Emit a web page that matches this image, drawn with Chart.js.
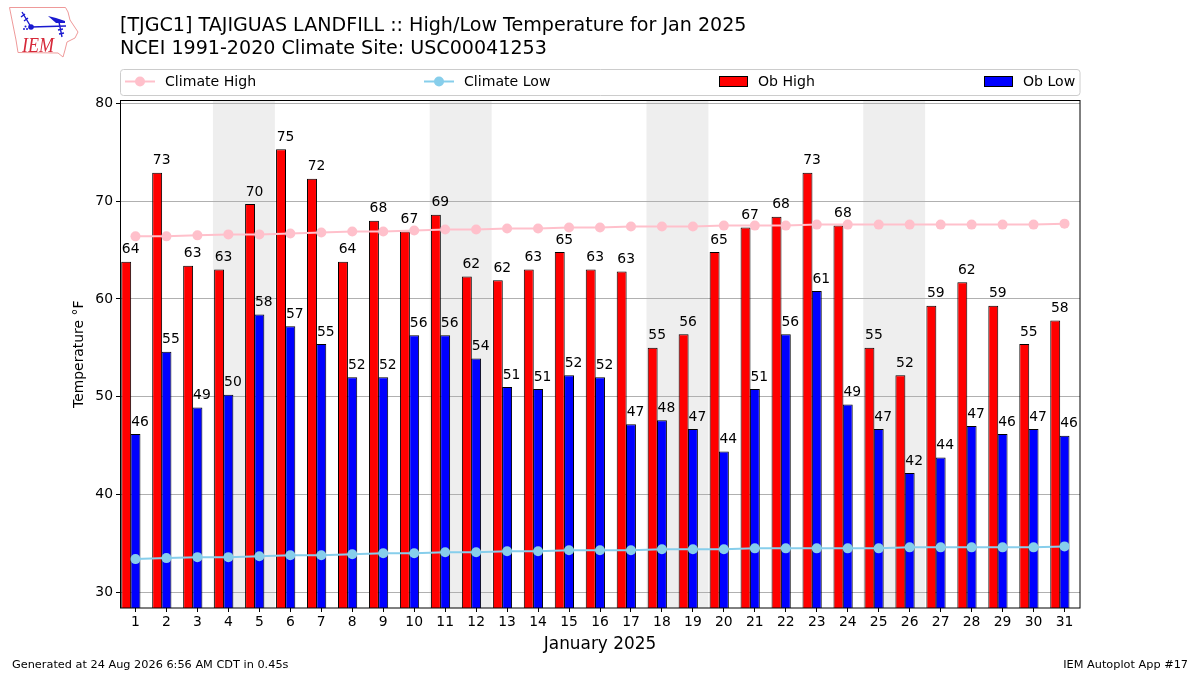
<!DOCTYPE html>
<html>
<head>
<meta charset="utf-8">
<title>TJGC1 High/Low Temperature</title>
<script src="https://cdn.jsdelivr.net/npm/chart.js@4"></script>
<style>
    html, body { margin: 0; padding: 0; background: #fff; }
    #wrap { position: relative; width: 1200px; height: 675px; overflow: hidden; }
    #logo { position: absolute; left: 8px; top: 6px; }
</style>
</head>
<body>
<div id="wrap">
    <canvas id="tempChart" width="1200" height="675"></canvas>
    <svg id="logo" width="74" height="54" viewBox="8 6 74 54">
        <path d="M9.5 7.5 L65.5 7.5 L68 12 L70 20 L78 32 L75 38 L67 42 L65 50 L63 57 L58 53 L18 52.5 L16 40 L12 20 Z" fill="#fff" stroke="#ee9999" stroke-width="1"/>
        <g stroke="#1a1ad0" stroke-width="1.4" fill="none">
            <path d="M31 27 L66 26 M59 22 L62 37 M58 30 L63 29 M59 34 L64 33 M22 12 L31 27 M21 17 L25 14 M24 21 L28 18"/>
        </g>
        <path d="M48 16 L56 18 L65 21 L65 23 L56 23 Z" fill="#1a1ad0"/>
        <circle cx="31" cy="27" r="2.8" fill="#1a1ad0"/>
        <circle cx="24" cy="29" r="1" fill="#1a1ad0"/>
        <circle cx="27" cy="29" r="1" fill="#1a1ad0"/>
        <circle cx="25.5" cy="26.5" r="1" fill="#1a1ad0"/>
        <text x="22" y="52" font-family="Liberation Serif" font-style="italic" font-size="21" textLength="32" lengthAdjust="spacingAndGlyphs" fill="#d62839">IEM</text>
    </svg>
</div>
<script>
const days = ["1","2","3","4","5","6","7","8","9","10","11","12","13","14","15","16","17","18","19","20","21","22","23","24","25","26","27","28","29","30","31"];
const obHigh = [63.8,72.9,63.4,63.0,69.7,75.3,72.3,63.8,68.0,66.9,68.6,62.3,61.9,63.0,64.8,63.0,62.8,55.0,56.4,64.8,67.3,68.4,72.9,67.5,55.0,52.2,59.3,61.7,59.3,55.4,57.8];
const obLow = [46.2,54.6,48.9,50.2,58.4,57.2,55.4,52.0,52.0,56.3,56.3,53.9,51.0,50.8,52.2,52.0,47.2,47.6,46.7,44.4,50.8,56.4,60.8,49.2,46.7,42.2,43.8,47.0,46.2,46.7,46.0];
const climateHigh = [66.4,66.4,66.5,66.6,66.6,66.7,66.8,66.9,66.9,67.0,67.1,67.1,67.2,67.2,67.3,67.3,67.4,67.4,67.4,67.5,67.5,67.5,67.6,67.6,67.6,67.6,67.6,67.6,67.6,67.6,67.7];
const climateLow = [33.4,33.5,33.6,33.6,33.7,33.8,33.8,33.9,34.0,34.0,34.1,34.1,34.2,34.2,34.3,34.3,34.3,34.4,34.4,34.4,34.5,34.5,34.5,34.5,34.5,34.6,34.6,34.6,34.6,34.6,34.7];
const weekends = [[4,5],[11,12],[18,19],[25,26]];
const yTicks = [30,40,50,60,70,80];

const FONT = '"DejaVu Sans"';

// grey bands behind the weekends
const weekendBands = {
    id: "weekendBands",
    beforeDraw(chart) {
        const { ctx, chartArea, scales } = chart;
        const half = (scales.x.getPixelForValue(1) - scales.x.getPixelForValue(0)) / 2;
        ctx.save();
        ctx.fillStyle = "#eeeeee";
        weekends.forEach(([a, b]) => {
            const x0 = scales.x.getPixelForValue(a - 1) - half;
            const x1 = scales.x.getPixelForValue(b - 1) + half;
            ctx.fillRect(x0, chartArea.top, x1 - x0, chartArea.bottom - chartArea.top);
        });
        ctx.restore();
    },
};

// rounded values above the bars, black frame, footer text
const barLabels = {
    id: "barLabels",
    afterDraw(chart) {
        const { ctx, chartArea } = chart;
        ctx.save();
        ctx.fillStyle = "#000";
        ctx.font = "13.9px " + FONT;
        ctx.textAlign = "center";
        ctx.textBaseline = "middle";
        [2, 3].forEach((i) => {
            const meta = chart.getDatasetMeta(i);
            chart.data.datasets[i].data.forEach((v, j) => {
                const bar = meta.data[j];
                ctx.fillText(String(Math.round(v)), bar.x + 4.5, bar.y - 12);
            });
        });
        ctx.strokeStyle = "#000";
        ctx.lineWidth = 1;
        ctx.strokeRect(120.5, chartArea.top, 959.5, chartArea.bottom - chartArea.top);

        ctx.font = "11.3px " + FONT;
        ctx.textAlign = "left";
        ctx.fillText("Generated at 24 Aug 2026 6:56 AM CDT in 0.45s", 12, 665);
        ctx.textAlign = "right";
        ctx.fillText("IEM Autoplot App #17", 1188, 665);
        ctx.restore();
    },
};

// legend stretched over the plot width, like matplotlib mode="expand"
const wideLegend = {
    id: "wideLegend",
    afterDraw(chart) {
        const { ctx } = chart;
        const slots = [[0, 125], [1, 424], [2, 719], [3, 984]];
        ctx.save();
        ctx.beginPath();
        ctx.roundRect(120.5, 69.5, 959.5, 26, 3);
        ctx.fillStyle = "#fff";
        ctx.fill();
        ctx.strokeStyle = "#cccccc";
        ctx.lineWidth = 1;
        ctx.stroke();
        const y = 81.5;
        slots.forEach(([i, x]) => {
            const ds = chart.data.datasets[i];
            if (ds.type === "line") {
                ctx.strokeStyle = ds.borderColor;
                ctx.lineWidth = 2;
                ctx.beginPath();
                ctx.moveTo(x, y);
                ctx.lineTo(x + 30, y);
                ctx.stroke();
                ctx.fillStyle = ds.borderColor;
                ctx.beginPath();
                ctx.arc(x + 15, y, 5, 0, Math.PI * 2);
                ctx.fill();
            } else {
                ctx.fillStyle = ds.backgroundColor;
                ctx.strokeStyle = "#000";
                ctx.lineWidth = 1;
                ctx.fillRect(x + 0.5, y - 5, 28, 10);
                ctx.strokeRect(x + 0.5, y - 5, 28, 10);
            }
            ctx.fillStyle = "#000";
            ctx.font = "14.1px " + FONT;
            ctx.textAlign = "left";
            ctx.textBaseline = "middle";
            ctx.fillText(ds.label, x + (ds.type === "line" ? 40 : 39), y + 1);
        });
        ctx.restore();
    },
};

const tempCtx = document.getElementById("tempChart").getContext("2d");
const tempChart = new Chart(tempCtx, {
    type: "bar",
    data: {
        labels: days,
        datasets: [
            {
                type: "line",
                label: "Climate High",
                data: climateHigh,
                borderColor: "pink",
                backgroundColor: "pink",
                borderWidth: 2,
                pointRadius: 5,
                pointBorderWidth: 0,
                tension: 0,
                order: 0,
            },
            {
                type: "line",
                label: "Climate Low",
                data: climateLow,
                borderColor: "skyblue",
                backgroundColor: "skyblue",
                borderWidth: 2,
                pointRadius: 5,
                pointBorderWidth: 0,
                tension: 0,
                order: 0,
            },
            {
                label: "Ob High",
                data: obHigh,
                backgroundColor: "#ff0000",
                borderColor: "#000",
                borderWidth: 1,
                borderSkipped: false,
                order: 1,
            },
            {
                label: "Ob Low",
                data: obLow,
                backgroundColor: "#0000ff",
                borderColor: "#000",
                borderWidth: 1,
                borderSkipped: false,
                order: 1,
            },
            // empty third slot so the low bar sits on the tick
            { label: "", data: [], order: 1 },
        ],
    },
    options: {
        responsive: false,
        animation: false,
        layout: { padding: { top: 8, right: 120, bottom: 0, left: 0 } },
        datasets: { bar: { categoryPercentage: 0.9, barPercentage: 1.07 } },
        scales: {
            x: {
                afterFit(scale) { scale.height = 67; },
                grid: { color: "transparent", tickColor: "#000", offset: false, tickLength: 4 },
                border: { display: false },
                ticks: { color: "#000", font: { family: FONT, size: 13.9 }, autoSkip: false, maxRotation: 0, padding: 2 },
                title: {
                    display: true,
                    text: "January 2025",
                    color: "#000",
                    font: { family: FONT, size: 16.9 },
                    padding: { top: 0, bottom: 20 },
                },
            },
            y: {
                min: 28.4,
                max: 80.29,
                afterFit(scale) { scale.width = 120; },
                afterBuildTicks(scale) { scale.ticks = yTicks.map((v) => ({ value: v })); },
                grid: { color: "#b0b0b0", tickColor: "#000", tickLength: 4, lineWidth: 1 },
                border: { display: false },
                ticks: { color: "#000", font: { family: FONT, size: 13.9 }, padding: 3 },
                title: {
                    display: true,
                    text: "Temperature °F",
                    color: "#000",
                    font: { family: FONT, size: 13.9 },
                    padding: { top: 71, bottom: 0 },
                },
            },
        },
        plugins: {
            legend: { display: false },
            tooltip: { enabled: false },
            title: {
                display: true,
                text: ["[TJGC1] TAJIGUAS LANDFILL :: High/Low Temperature for Jan 2025", "NCEI 1991-2020 Climate Site: USC00041253"],
                align: "start",
                fullSize: false,
                color: "#000",
                font: { family: FONT, size: 19.1, weight: "normal", lineHeight: 1.2 },
                padding: { top: 7, bottom: 39.66 },
            },
        },
    },
    plugins: [weekendBands, barLabels, wideLegend],
});
</script>
</body>
</html>
